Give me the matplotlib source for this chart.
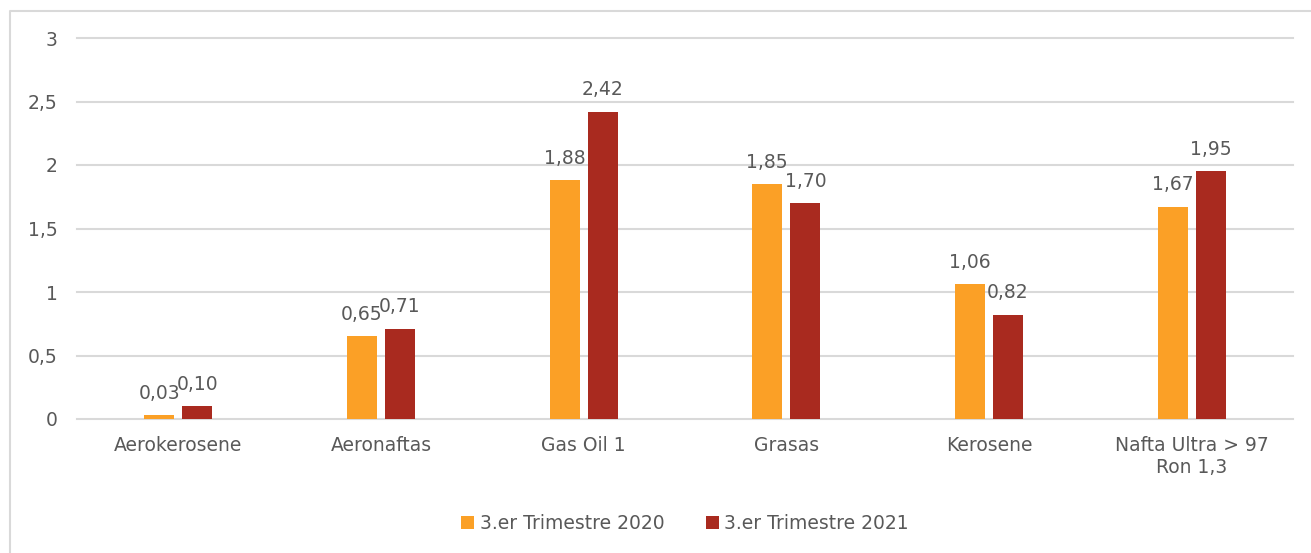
import matplotlib.pyplot as plt
import numpy as np
from matplotlib.lines import Line2D

categories = ["Aerokerosene", "Aeronaftas", "Gas Oil 1", "Grasas", "Kerosene",
              "Nafta Ultra > 97\nRon 1,3"]
q3_2020 = [0.03, 0.65, 1.88, 1.85, 1.06, 1.67]
q3_2021 = [0.10, 0.71, 2.42, 1.70, 0.82, 1.95]
series_names = ["3.er Trimestre 2020", "3.er Trimestre 2021"]
yticks = [0, 0.5, 1, 1.5, 2, 2.5, 3]

plt.rcParams['font.family'] = ['DejaVu Sans']
txt = '#595959'
fs = 13.5

fig = plt.figure(figsize=(13.11, 5.53), dpi=100)
ax = fig.add_axes([77 / 1311, 1 - 419 / 553, 1216 / 1311, 381 / 553])

x = np.arange(len(categories))
w = 0.149
off = 0.094
b1 = ax.bar(x - off, q3_2020, w, color='#FBA026', label=series_names[0], zorder=3)
b2 = ax.bar(x + off, q3_2021, w, color='#A92A1F', label=series_names[1], zorder=3)

def fmt(v):
    return ("%.2f" % v).replace('.', ',')

for bars, vals in [(b1, q3_2020), (b2, q3_2021)]:
    for r, v in zip(bars, vals):
        ax.annotate(fmt(v), (r.get_x() + r.get_width() / 2, v), xytext=(0, 9),
                    textcoords='offset points', ha='center', va='bottom',
                    fontsize=fs, color=txt)

ax.set_xlim(-0.5, len(categories) - 0.5)
ax.set_ylim(0, 3)
ax.set_yticks(yticks)
ax.set_yticklabels([("%g" % t).replace('.', ',') for t in yticks], fontsize=fs, color=txt)
ax.set_xticks(x)
ax.set_xticklabels(categories, fontsize=fs, color=txt, linespacing=1.2)
ax.tick_params(axis='both', length=0)
ax.tick_params(axis='y', pad=14)
ax.tick_params(axis='x', pad=12)
ax.yaxis.grid(True, color='#D9D9D9', linewidth=1.5, zorder=0)
for gl in ax.get_ygridlines():
    gl.set_clip_on(False)
for s in ax.spines.values():
    s.set_visible(False)

leg = ax.legend(loc='center', bbox_to_anchor=(0.5, -0.275), ncol=2, frameon=False,
                fontsize=fs, handlelength=0.7, handleheight=0.7, handletextpad=0.3,
                columnspacing=2.2)
for t in leg.get_texts():
    t.set_color(txt)

# outer frame (left and top edges only visible in the reference)
fig.lines.append(Line2D([10 / 1311, 10 / 1311, 1.0], [0, 1 - 11 / 553, 1 - 11 / 553],
                        transform=fig.transFigure, color='#D9D9D9', linewidth=1.5))

fig.savefig('out.png', dpi=100)
